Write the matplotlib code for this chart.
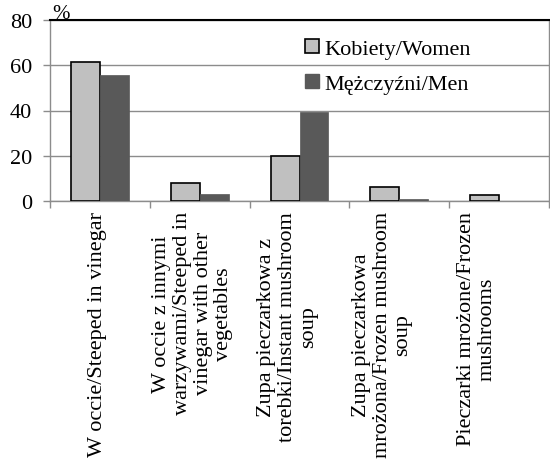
import matplotlib
matplotlib.use("Agg")
import matplotlib.pyplot as plt
from matplotlib.patches import Patch
import numpy as np

categories = [
    "W occie/Steeped in vinegar",
    "W occie z innymi\nwarzywami/Steeped in\nvinegar with other\nvegetables",
    "Zupa pieczarkowa z\ntorebki/Instant mushroom\nsoup",
    "Zupa pieczarkowa\nmrożona/Frozen mushroom\nsoup",
    "Pieczarki mrożone/Frozen\nmushrooms",
]
women = [61.3, 8.0, 20.0, 6.3, 2.8]
men = [55.7, 3.1, 39.3, 0.7, 0.0]
series_names = ["Kobiety/Women", "Mężczyźni/Men"]
y_ticks = [0, 20, 40, 60, 80]

plt.rcParams["font.family"] = ["Liberation Serif", "DejaVu Serif"]

fig = plt.figure(figsize=(5.5, 4.64), dpi=100)
ax = fig.add_axes([50 / 550, (464 - 202) / 464, 499 / 550, 181 / 464])

grid_c = "#8c8c8c"
women_c = "#c0c0c0"
men_c = "#595959"
w = 0.29
x = np.arange(len(categories))

ax.bar(x - w / 2, women, w, color=women_c, edgecolor="black", linewidth=1.2, zorder=3)
ax.bar(x + w / 2, men, w, color=men_c, edgecolor=men_c, linewidth=0.5, zorder=3)

ax.set_xlim(-0.5, len(categories) - 0.5)
ax.set_ylim(0, 80)
ax.set_yticks(y_ticks)
ax.set_yticklabels([str(v) for v in y_ticks], fontsize=16)
ax.set_xticks(np.arange(len(categories) + 1) - 0.5)
ax.set_xticklabels([])
ax.tick_params(axis="y", length=5, width=1, color=grid_c, pad=8)
ax.tick_params(axis="x", length=5, width=1, color=grid_c)
ax.yaxis.grid(True, color=grid_c, linewidth=1)
ax.set_axisbelow(True)
for side in ("left", "right", "bottom"):
    ax.spines[side].set_color(grid_c)
    ax.spines[side].set_linewidth(1)
ax.spines["top"].set_color("black")
ax.spines["top"].set_linewidth(1.5)

# category labels are laid out on a slightly tighter pitch than the bars
for i, lab in enumerate(categories):
    ax.text(i * 0.95 - 0.02, -4.5, lab, rotation=90, ha="center", va="top",
            multialignment="center", fontsize=16, linespacing=1.12)

ax.text(0.005, 0.983, "%", transform=ax.transAxes, fontsize=15, ha="left", va="bottom")

handles = [Patch(facecolor=women_c, edgecolor="black", linewidth=1.2),
           Patch(facecolor=men_c, edgecolor=men_c)]
ax.legend(handles, series_names, loc="upper left", bbox_to_anchor=(0.494, 0.945),
          frameon=False, fontsize=16, handlelength=0.6, handleheight=0.6,
          handletextpad=0.25, labelspacing=0.7, borderaxespad=0)

fig.savefig("out.png", dpi=100)
